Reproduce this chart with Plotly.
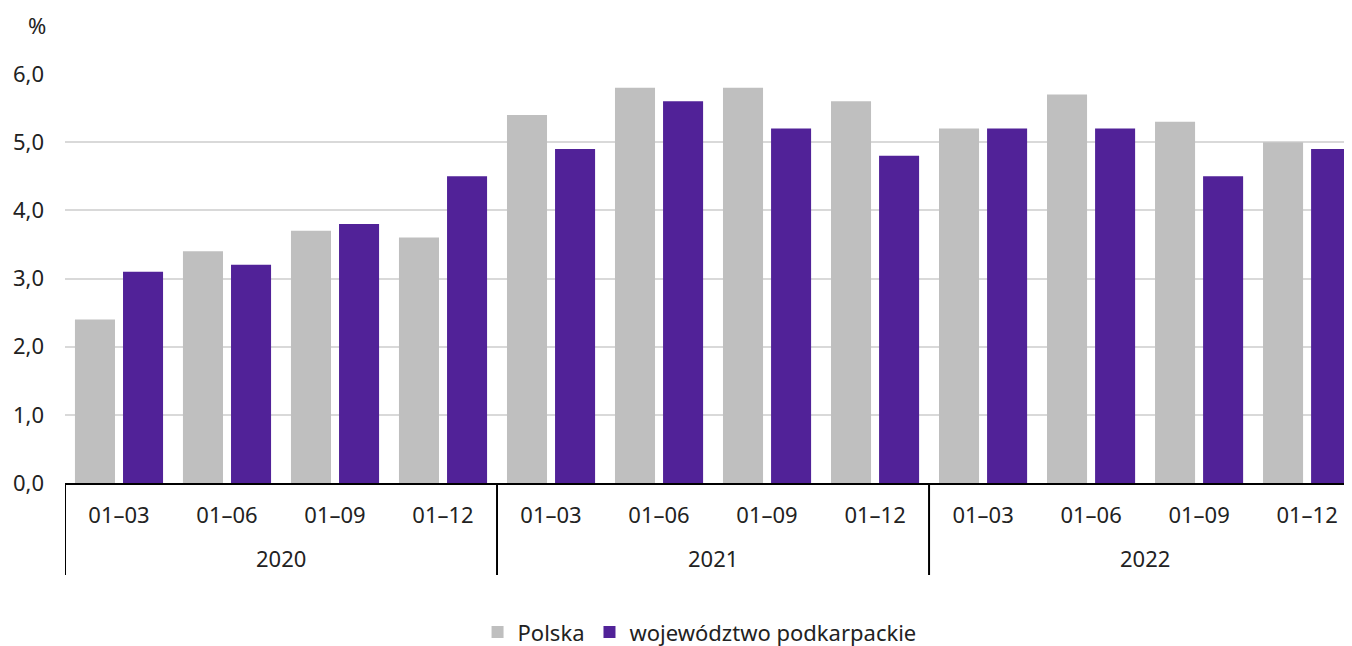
import plotly.graph_objects as go

years = ["2020", "2021", "2022"]
periods = ["01–03", "01–06", "01–09", "01–12"]
polska = [2.4, 3.4, 3.7, 3.6, 5.4, 5.8, 5.8, 5.6, 5.2, 5.7, 5.3, 5.0]
podkarpackie = [3.1, 3.2, 3.8, 4.5, 4.9, 5.6, 5.2, 4.8, 5.2, 5.2, 4.5, 4.9]
y_ticks = [0, 1, 2, 3, 4, 5, 6]
y_labels = ["0,0", "1,0", "2,0", "3,0", "4,0", "5,0", "6,0"]

n_per = len(periods)
x_idx = list(range(len(years) * n_per))
x_labels = periods * len(years)

FONT = "Noto Sans"
FS = 22
fig = go.Figure()
fig.add_trace(go.Bar(x=x_idx, y=polska, name="Polska",
                     marker=dict(color="#bfbfbf", line=dict(width=0))))
fig.add_trace(go.Bar(x=x_idx, y=podkarpackie, name="województwo podkarpackie",
                     marker=dict(color="#512298", line=dict(width=0))))

annotations = [dict(text="%", xref="paper", yref="paper", x=-0.013, y=1.12,
                    xanchor="right", yanchor="middle", showarrow=False,
                    font=dict(size=FS))]
shapes = []
for g, yr in enumerate(years):
    annotations.append(dict(text=yr, xref="x", yref="paper",
                            x=g * n_per + (n_per - 1) / 2, y=-0.183,
                            xanchor="center", yanchor="middle", showarrow=False,
                            font=dict(size=FS)))
    shapes.append(dict(type="line", xref="x", yref="paper",
                       x0=g * n_per - 0.5, x1=g * n_per - 0.5, y0=0, y1=-0.225,
                       line=dict(color="black", width=2)))

fig.update_layout(
    width=1352, height=646,
    margin=dict(l=57, r=0, t=66, b=171),
    plot_bgcolor="white", paper_bgcolor="white",
    font=dict(family=FONT, size=FS, color="#222222"),
    barmode="group", bargap=0.11, bargroupgap=0.167,
    showlegend=True,
    legend=dict(orientation="h", x=0.49, xanchor="center", y=-0.365, yanchor="middle",
                font=dict(size=FS), itemwidth=30, tracegroupgap=0),
    xaxis=dict(range=[-0.5, 11.49], tickvals=x_idx, ticktext=x_labels,
               showline=True, linecolor="black", linewidth=2, showgrid=False,
               zeroline=False, ticks="", ticklabelstandoff=12,
               tickfont=dict(size=FS)),
    yaxis=dict(range=[0, 6], tickvals=y_ticks, ticktext=y_labels, showgrid=True,
               gridcolor="#d9d9d9", gridwidth=2, zeroline=False, showline=False,
               ticks="", ticklabelstandoff=20, tickfont=dict(size=FS)),
    annotations=annotations,
    shapes=shapes,
)
fig.write_html("out.html")
